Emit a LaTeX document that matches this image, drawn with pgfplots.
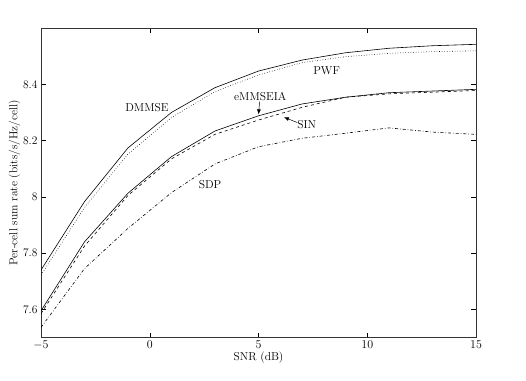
\documentclass[border=0pt]{standalone}
\usepackage{pgfplots}
\pgfplotsset{compat=1.18}
\usetikzlibrary{arrows.meta}

\newcommand{\lbl}{\fontsize{11.5}{13}\selectfont}

\begin{document}
\begin{tikzpicture}
\begin{axis}[
  scale only axis,
  width=435pt, height=309.5pt,
  xmin=-5, xmax=15, ymin=7.5, ymax=8.6,
  xtick={-5,0,5,10,15},
  ytick={7.6,7.8,8,8.2,8.4},
  yticklabels={7.6,7.8,8,8.2,8.4},
  tick align=inside,
  major tick length=5pt,
  tick style={black, line width=0.4pt},
  axis line style={line width=0.6pt, black!80},
  ticklabel style={font=\lbl},
  label style={font=\lbl},
  xlabel={SNR (dB)},
  ylabel={Per-cell sum rate (bits/s/Hz/cell)},
  xlabel style={yshift=5pt},
  ylabel style={yshift=-4pt},
  every axis plot/.append style={black, line width=0.6pt},
]
% DMMSE
\addplot[solid] coordinates {
  (-5,7.740) (-3,7.983) (-1,8.174) (1,8.300) (3,8.388) (5,8.447)
  (7,8.486) (9,8.512) (11,8.528) (13,8.537) (15,8.542)
};
% PWF
\addplot[dotted] coordinates {
  (-5,7.722) (-3,7.962) (-1,8.152) (1,8.282) (3,8.374) (5,8.433)
  (7,8.477) (9,8.498) (11,8.510) (13,8.516) (15,8.519)
};
% eMMSEIA
\addplot[solid] coordinates {
  (-5,7.595) (-3,7.840) (-1,8.013) (1,8.143) (3,8.234) (5,8.288)
  (7,8.330) (9,8.354) (11,8.370) (13,8.376) (15,8.382)
};
% SIN
\addplot[dashed] coordinates {
  (-5,7.585) (-3,7.825) (-1,8.005) (1,8.135) (3,8.222) (5,8.273)
  (7,8.318) (9,8.354) (11,8.366) (13,8.372) (15,8.378)
};
% SDP
\addplot[dash dot] coordinates {
  (-5,7.536) (-3,7.745) (-1,7.888) (1,8.015) (3,8.117) (5,8.178)
  (7,8.208) (9,8.226) (11,8.245) (13,8.230) (15,8.222)
};

\node[font=\lbl] at (axis cs:-0.13,8.316) {DMMSE};
\node[font=\lbl] at (axis cs:8.13,8.447) {PWF};
\node[font=\lbl] at (axis cs:5.08,8.356) {eMMSEIA};
\node[font=\lbl] at (axis cs:7.22,8.258) {SIN};
\node[font=\lbl] at (axis cs:2.77,8.045) {SDP};
\draw[-{Latex[length=5pt,width=4pt]}, line width=0.5pt] (axis cs:5.05,8.338) -- (axis cs:5.0,8.293);
\draw[-{Latex[length=5pt,width=4pt]}, line width=0.5pt] (axis cs:6.78,8.264) -- (axis cs:6.17,8.283);

\coordinate (bl) at (rel axis cs:-0.0943,-0.1373);
\coordinate (tr) at (rel axis cs:1.1149,1.0905);
\end{axis}
\path (bl) rectangle (tr);
\end{tikzpicture}
\end{document}
